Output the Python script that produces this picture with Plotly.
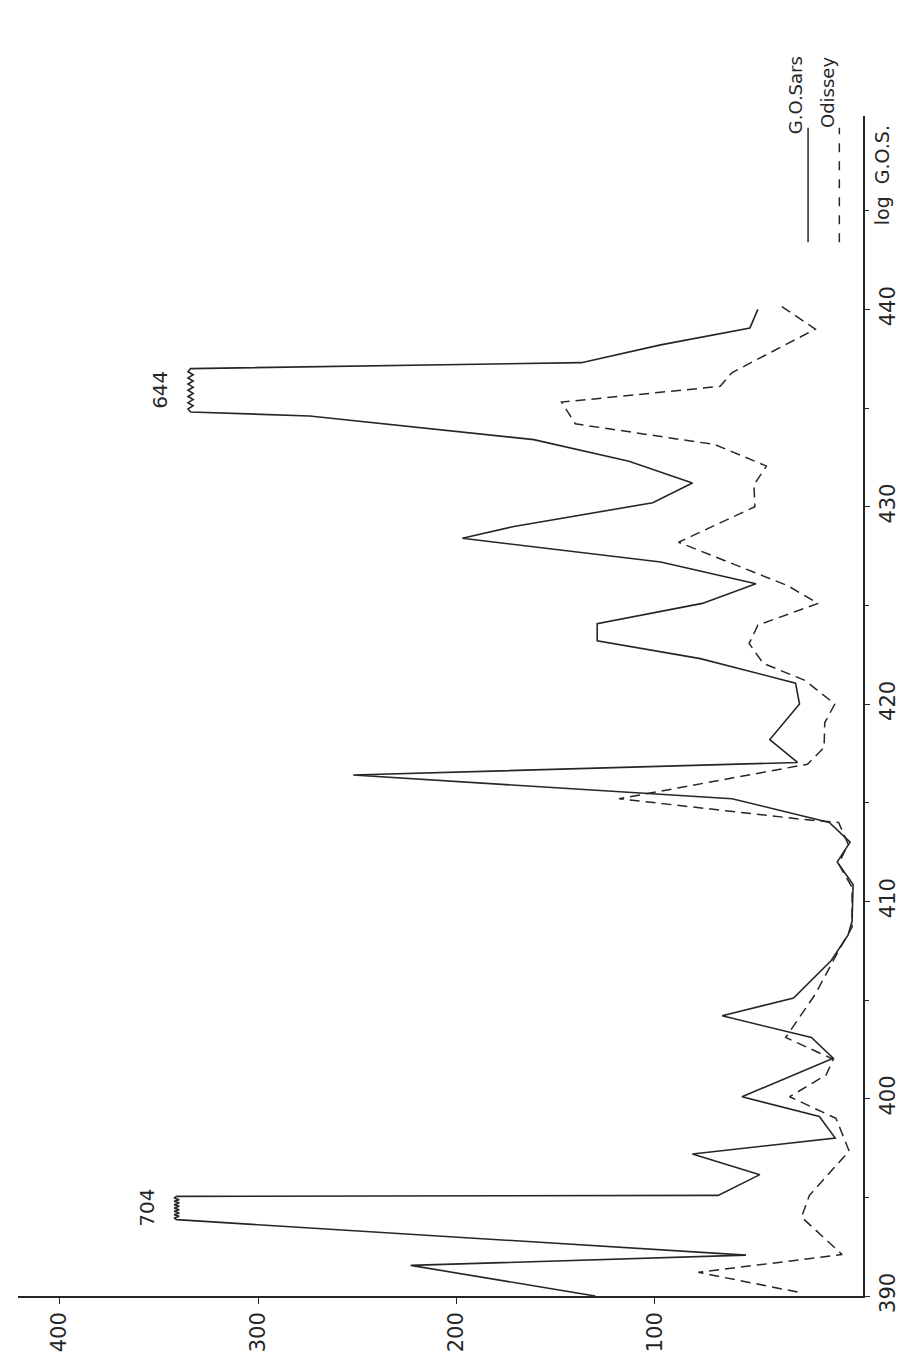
import numpy as np
import plotly.graph_objects as go

## G.O.Sars (solid) -- log G.O.S. positions and values
gos_sars = [390.0, 391.55, 392.07, 393.87, 395.05, 395.1, 396.15, 397.2, 398.0, 399.1,
            400.1, 402.05, 403.1, 404.2, 405.1, 407.0, 408.3, 409.0, 410.85, 412.0,
            413.0, 414.0, 415.2, 416.4, 417.04, 418.2, 420.0, 421.06, 422.3, 423.2,
            424.07, 425.1, 426.1, 427.2, 428.4, 429.0, 430.2, 431.2, 432.3, 433.4,
            434.6, 434.8, 437.0, 437.3, 438.2, 439.06, 440.0]
sars = [130, 223, 54, 704, 704, 68, 47, 81, 9, 17,
        56, 10, 21, 66, 30, 11, 2.5, 0.5, 0, 8,
        1.5, 12, 61, 252, 28, 42, 27, 29, 77, 129,
        129, 76, 49, 97, 197, 171, 101, 81, 113, 161,
        274, 644, 644, 137, 97, 52, 48]

## Odissey (dashed)
gos_odi = [390.2, 391.2, 392.1, 393.3, 394.0, 395.1, 397.35, 399.0, 400.1, 401.2,
           402.0, 403.1, 405.3, 407.5, 408.7, 410.7, 411.9, 412.9, 414.0, 414.15,
           415.2, 416.95, 417.8, 419.05, 420.0, 421.2, 422.06, 423.07, 424.0, 425.1,
           426.0, 428.2, 430.0, 431.1, 432.06, 433.15, 434.2, 435.3, 436.1, 436.8,
           439.0, 440.15]
odi = [28, 78, 5.5, 18.6, 26, 22, 2, 8.6, 32, 13.6,
       10, 34, 19, 7.3, 0.5, 0.5, 7.3, 2.5, 7.3, 25,
       118, 23, 14.6, 14.3, 9.2, 24.3, 45.3, 52.4, 48, 17.6,
       33, 88, 49.5, 50, 43.7, 69.7, 140, 147, 67, 61,
       19, 36]

value_ticks = [100, 200, 300, 400]
gos_ticks = [390, 400, 410, 420, 430, 440]

## off-scale peaks are drawn broken at these heights
broken_at = {704: 341, 644: 334}

INK = "#262626"
FONT = "DejaVu Sans"


def with_breaks(g, v):
    """clip the off-scale values and put a wavy break between them"""
    gg, vv = [], []
    for i in range(len(g)):
        vi = broken_at.get(v[i], v[i])
        if i > 0 and v[i] in broken_at and v[i - 1] in broken_at:
            t = np.linspace(0, 1, 15)[1:-1]
            for k, tk in enumerate(t):
                gg.append(g[i - 1] + (g[i] - g[i - 1]) * tk)
                vv.append(vi + (1.3 if k % 2 == 0 else -1.3))
        gg.append(g[i])
        vv.append(vi)
    return gg, vv


sx, sy = with_breaks(gos_sars, sars)
ox, oy = with_breaks(gos_odi, odi)

fig = go.Figure()
fig.add_trace(go.Scatter(x=sy, y=sx, mode="lines", name="G.O.Sars",
                         line=dict(color=INK, width=1.6)))
fig.add_trace(go.Scatter(x=oy, y=ox, mode="lines", name="Odissey",
                         line=dict(color=INK, width=1.5, dash="10px,6px")))

## labels on the broken peaks
for val in broken_at:
    idx = [i for i, s in enumerate(sars) if s == val]
    gmid = (gos_sars[idx[0]] + gos_sars[idx[-1]]) / 2
    fig.add_annotation(x=broken_at[val], y=gmid, text=str(val), showarrow=False,
                       textangle=-90, xshift=-30, font=dict(size=20, color=INK, family=FONT))

## rotated legend in the top right corner
for xp, dash, label in [(0.935, "solid", "G.O.Sars"), (0.972, "dash", "Odissey")]:
    fig.add_shape(type="line", xref="paper", yref="paper", x0=xp, x1=xp, y0=0.893, y1=0.99,
                  line=dict(color=INK, width=1.5, dash=dash))
    fig.add_annotation(xref="paper", yref="paper", x=xp, y=1.052, text=label, showarrow=False,
                       textangle=-90, font=dict(size=18, color=INK, family=FONT))

fig.add_annotation(xref="paper", yref="paper", x=1.038, y=0.994, text="log  G.O.S.",
                   showarrow=False, textangle=-90, font=dict(size=19, color=INK, family=FONT))

fig.update_layout(
    width=904, height=1354,
    margin=dict(l=10, r=49, t=108, b=62),
    paper_bgcolor="white", plot_bgcolor="white",
    showlegend=False,
    font=dict(family=FONT, size=21, color=INK),
    xaxis=dict(range=[421, -5], tickvals=value_ticks, tickangle=-90,
               showgrid=False, zeroline=False, showline=True, linecolor=INK, linewidth=1.5,
               ticks="outside", ticklen=6, tickcolor=INK, side="bottom"),
    yaxis=dict(range=[390, 449.8], tickvals=gos_ticks, tickangle=-90, side="right",
               showgrid=False, zeroline=False, showline=True, linecolor=INK, linewidth=1.5,
               ticks="outside", ticklen=5, tickcolor=INK,
               minor=dict(tickvals=[395, 405, 415, 425, 435, 445], ticks="outside",
                          ticklen=4, tickcolor=INK)),
)

fig.write_html("out.html")
